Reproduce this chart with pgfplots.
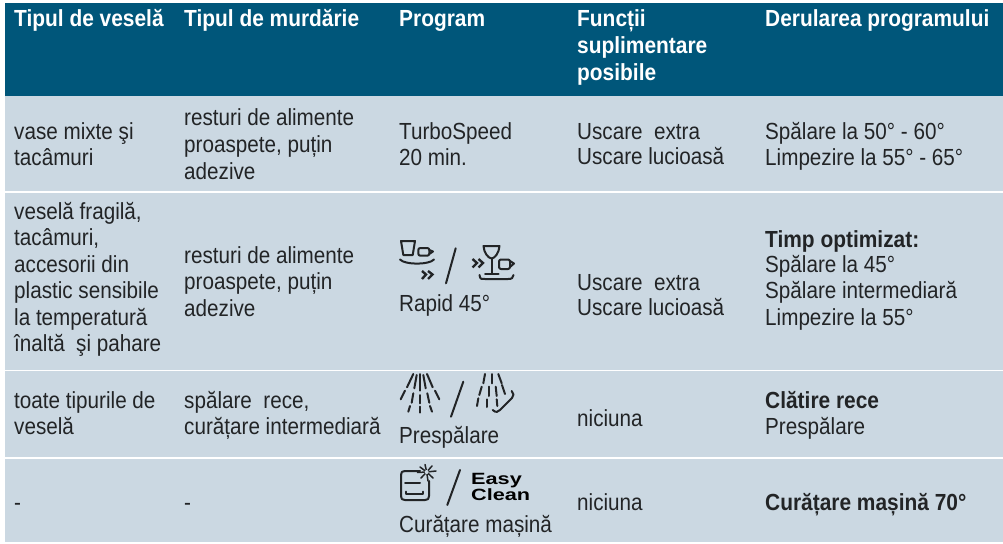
\documentclass[border=0pt]{standalone}
\usepackage{pgfplots}
\pgfplotsset{compat=1.18}
\usepackage{fontspec}
\setmainfont{Liberation Sans}[FakeStretch=0.887,BoldFeatures={FakeStretch=0.897}]
\newfontfamily\wide{Liberation Sans}[FakeStretch=1.33]
\definecolor{head}{HTML}{00567A}
\definecolor{cell}{HTML}{CBD8E2}
\definecolor{ink}{HTML}{222426}
\newcommand{\T}[3]{\node[anchor=base west,inner sep=0pt,text=ink,font=\fontsize{23.3}{26}\selectfont] at (#1,#2) {#3};}
\newcommand{\B}[3]{\node[anchor=base west,inner sep=0pt,text=ink,font=\fontsize{23.3}{26}\selectfont\bfseries] at (#1,#2) {#3};}
\newcommand{\Hd}[3]{\node[anchor=base west,inner sep=0pt,text=white,font=\fontsize{23.3}{26}\selectfont\bfseries] at (#1,#2) {#3};}
\begin{document}
\begin{tikzpicture}[x=1pt,y=1pt]
\begin{axis}[
  at={(0,0)}, anchor=south west,
  x=1pt, y=-1pt, xmin=0, xmax=1003, ymin=0, ymax=543,
  hide axis, scale only axis, clip=false,
  axis on top=false]
\addplot[draw=none,fill=white,forget plot] coordinates {(0,0)(1003,0)(1003,543)(0,543)} -- cycle;
\addplot[draw=none,fill=head,forget plot] coordinates {(5,3)(1003,3)(1003,96)(5,96)} -- cycle;
\addplot[draw=none,fill=cell,forget plot] coordinates {(5,96)(1003,96)(1003,191)(5,191)} -- cycle;
\addplot[draw=none,fill=cell,forget plot] coordinates {(5,193)(1003,193)(1003,369.5)(5,369.5)} -- cycle;
\addplot[draw=none,fill=cell,forget plot] coordinates {(5,371)(1003,371)(1003,457)(5,457)} -- cycle;
\addplot[draw=none,fill=cell,forget plot] coordinates {(5,459)(1003,459)(1003,542)(5,542)} -- cycle;
% header
\Hd{14}{27}{Tipul de veselă}
\Hd{184}{27}{Tipul de murdărie}
\Hd{399}{27}{Program}
\Hd{577}{27}{Funcții}
\Hd{577}{54}{suplimentare}
\Hd{577}{81}{posibile}
\Hd{765}{27}{Derularea programului}
% row 1
\T{14}{139}{vase mixte şi}
\T{14}{165}{tacâmuri}
\T{184}{125}{resturi de alimente}
\T{184}{152}{proaspete, puțin}
\T{184}{179}{adezive}
\T{399}{139}{TurboSpeed}
\T{399}{165}{20 min.}
\T{577}{139}{Uscare\ \ extra}
\T{577}{164}{Uscare lucioasă}
\T{765}{139}{Spălare la 50° - 60°}
\T{765}{165}{Limpezire la 55° - 65°}
% row 2
\T{14}{219}{veselă fragilă,}
\T{14}{245}{tacâmuri,}
\T{14}{272}{accesorii din}
\T{14}{298}{plastic sensibile}
\T{14}{325}{la temperatură}
\T{14}{351}{înaltă\ \ şi pahare}
\T{184}{263}{resturi de alimente}
\T{184}{289}{proaspete, puțin}
\T{184}{316}{adezive}
\T{399}{311}{Rapid 45°}
\T{577}{290}{Uscare\ \ extra}
\T{577}{315}{Uscare lucioasă}
\B{765}{247}{Timp optimizat:}
\T{765}{272}{Spălare la 45°}
\T{765}{298}{Spălare intermediară}
\T{765}{325}{Limpezire la 55°}
% row 3
\T{14}{408}{toate tipurile de}
\T{14}{434}{veselă}
\T{184}{408}{spălare\ \ rece,}
\T{184}{434}{curățare intermediară}
\T{399}{443}{Prespălare}
\T{577}{426}{niciuna}
\B{765}{408}{Clătire rece}
\T{765}{434}{Prespălare}
% row 4
\T{14}{510}{-}
\T{184}{510}{-}
\T{399}{532}{Curățare mașină}
\T{577}{510}{niciuna}
\B{765}{510}{Curățare mașină 70°}
\node[anchor=base west,inner sep=0pt,text=black,font=\wide\fontsize{16.3}{16}\selectfont\bfseries] at (471,484) {Easy};
\node[anchor=base west,inner sep=0pt,text=black,font=\wide\fontsize{16.3}{16}\selectfont\bfseries] at (471,500) {Clean};
% icons
\begin{scope}[ink,line width=2pt,line cap=round,line join=round]
% glass + cup
\draw (401,241) -- (415,241) -- (412.7,255) -- (403.3,255) -- cycle;
\draw[rounded corners=2pt] (418.3,248) rectangle (429.3,255.7);
\draw (429.3,250) -- (433,251.5) -- (429.3,254);
\draw (400,259.5) .. controls (405,265) and (429,265) .. (434,259.5);
\draw[line width=2.4pt,line cap=butt,line join=miter] (422,271) -- (426,274.5) -- (422,279);
\draw[line width=2.4pt,line cap=butt,line join=miter] (428,271) -- (432.5,274.5) -- (428,279);
\draw (455.7,248.3) -- (446,283.3);
% wine + cup
\draw[line width=2.4pt,line cap=butt,line join=miter] (472.5,259) -- (477,263) -- (472.5,267.5);
\draw[line width=2.4pt,line cap=butt,line join=miter] (478.5,259) -- (483,263) -- (478.5,267.5);
\draw (483.5,246) -- (499.5,246) .. controls (499,253) and (495,258) .. (491.7,258.5) .. controls (488,258) and (484,253) .. (483.5,246) -- cycle;
\draw (491.7,258.5) -- (491.7,273.5);
\draw (485,273.5) -- (498.5,273.5);
\draw[rounded corners=2pt] (499,259.5) rectangle (510,269);
\draw (510,261) -- (514,263.5) -- (510,267);
\draw (479.5,275) .. controls (480,280) and (482,279) .. (485,279) -- (508,279) .. controls (512,279) and (513,278) .. (513.5,275);
% prewash left
\draw (413.3,374) -- (407,387.3);
\draw (416.7,375) -- (414.3,388.3);
\draw (420,374) -- (420,390.7);
\draw (423.3,375) -- (425.7,388.3);
\draw (427,374) -- (432.7,387.3);
\draw (405,390.7) -- (400.7,399.3);
\draw (413.3,393.3) -- (411.7,402.7);
\draw (420,395) -- (420,403.3);
\draw (427.3,393.3) -- (429.3,402.7);
\draw (435,390.7) -- (439.3,399.3);
\draw (410,406) -- (408.3,411.7);
\draw (420,406.7) -- (420,412.7);
\draw (430,406) -- (432,411.7);
\draw (463.3,381.7) -- (451,416.7);
% prewash right
\draw (485,374) -- (483.3,383.3);
\draw (491.7,374) -- (491.7,383.3);
\draw (498.3,374) -- (501.7,383.3);
\draw (481.7,386.7) -- (479.3,395);
\draw (488.7,386.7) -- (488.7,396);
\draw (495.7,386.7) -- (496.7,396);
\draw (502,385) -- (505,394);
\draw (478.3,398.3) -- (477,406);
\draw (487.3,399.3) -- (487.3,407);
\draw (496.7,399.3) -- (497.3,406);
\draw (492.7,410) .. controls (496,413) and (498,412) .. (500,410) -- (512,398) .. controls (514,396) and (514,393) .. (511.7,391);
% oven
\draw (420,471) -- (405,471) .. controls (402,471) and (401,472) .. (401,475) -- (401,496) .. controls (401,499) and (402,500) .. (405,500) -- (425,500) .. controls (428,500) and (429,499) .. (429,496) -- (429,481);
\draw (405,482.7) -- (420,482.7);
\draw (405.7,491.7) -- (405.7,494.3) -- (423.3,494.3) -- (423.3,491.7);
\draw (460,470) -- (447.3,505);
\end{scope}
\begin{scope}[ink,line width=1.5pt,line cap=round]
\draw (426.7,472) -- (425,464.5);
\draw (426.7,472) -- (420,467);
\draw (426.7,472) -- (417.5,472.5);
\draw (426.7,472) -- (421,478);
\draw (426.7,472) -- (428,481);
\draw (426.7,472) -- (433,478);
\draw (426.7,472) -- (436,471);
\draw (426.7,472) -- (432,466);
\fill[cell] (426.7,472) circle (2pt);
\end{scope}
\end{axis}
\end{tikzpicture}
\end{document}
